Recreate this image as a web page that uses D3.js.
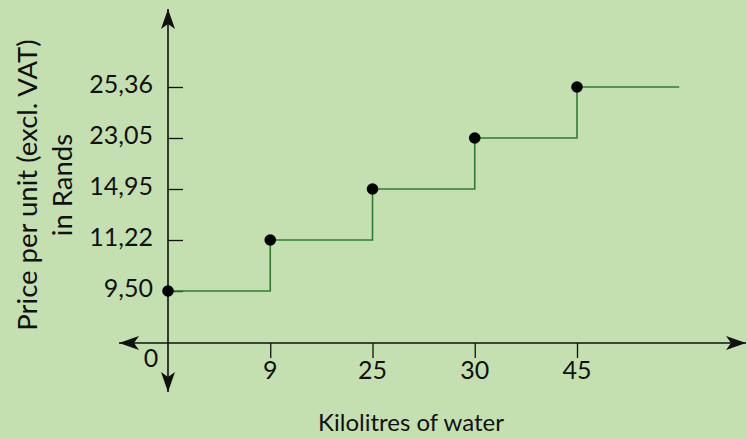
<!DOCTYPE html>
<html><head><meta charset="utf-8">
<script src="https://cdn.jsdelivr.net/npm/d3@7"></script>
<style>
html,body{margin:0;padding:0;background:#c5e0b0;}
svg{display:block;font-family:Lato,"Open Sans",sans-serif;}
</style></head>
<body>
<script>
const xCategories = ["0", "9", "25", "30", "45"];
const yCategories = ["9,50", "11,22", "14,95", "23,05", "25,36"];
const steps = [
  {x: "0",  y: "9,50"},
  {x: "9",  y: "11,22"},
  {x: "25", y: "14,95"},
  {x: "30", y: "23,05"},
  {x: "45", y: "25,36"}
];
const xTitle = "Kilolitres of water";
const yTitle = ["Price per unit (excl. VAT)", "in Rands"];

const W = 747, H = 439;
const svg = d3.select("body").append("svg").attr("width", W).attr("height", H);
svg.append("rect").attr("width", W).attr("height", H).attr("fill", "#c5e0b0");

const x = d3.scalePoint().domain(xCategories).range([168, 577]);
const y = d3.scalePoint().domain(yCategories).range([291, 87]);
const x0 = 168, y0 = 343;
const ink = "#111";

// arrowheads
const defs = svg.append("defs");
defs.append("marker").attr("id", "arr").attr("viewBox", "0 0 20 14")
  .attr("refX", 20).attr("refY", 7).attr("markerWidth", 20).attr("markerHeight", 14)
  .attr("markerUnits", "userSpaceOnUse").attr("orient", "auto-start-reverse")
  .append("path").attr("d", "M0,0 L20,7 L0,14 L5,7 Z").attr("fill", ink);

// x axis line
svg.append("line").attr("x1", 119).attr("x2", 746).attr("y1", y0).attr("y2", y0)
  .attr("stroke", ink).attr("stroke-width", 1.6)
  .attr("marker-start", "url(#arr)").attr("marker-end", "url(#arr)");
// y axis line
svg.append("line").attr("x1", x0).attr("x2", x0).attr("y1", 392).attr("y2", 9)
  .attr("stroke", ink).attr("stroke-width", 1.6)
  .attr("marker-start", "url(#arr)").attr("marker-end", "url(#arr)");

// x ticks
const xAxis = d3.axisBottom(x).tickSize(15).tickFormat(() => "")
  .tickValues(xCategories.slice(1));
const gx = svg.append("g").attr("transform", `translate(0,${y0})`).call(xAxis);
gx.select(".domain").remove();
gx.selectAll(".tick line").attr("stroke", ink).attr("stroke-width", 1.3);
svg.append("g").selectAll("text").data(xCategories.slice(1)).join("text")
  .attr("x", d => x(d)).attr("y", 379).attr("text-anchor", "middle")
  .attr("font-size", 25).attr("fill", ink).text(d => d);

// origin label
svg.append("text").attr("x", 151).attr("y", 367).attr("text-anchor", "middle")
  .attr("font-size", 25).attr("fill", ink).text(xCategories[0]);

// y ticks (pointing right into the plot)
const yAxis = d3.axisRight(y).tickSize(15).tickFormat(() => "");
const gy = svg.append("g").attr("transform", `translate(${x0},0)`).call(yAxis);
gy.select(".domain").remove();
gy.selectAll(".tick line").attr("stroke", ink).attr("stroke-width", 1.3);
svg.append("g").selectAll("text").data(yCategories).join("text")
  .attr("x", 153).attr("y", d => y(d) - 3).attr("dy", "0.35em")
  .attr("text-anchor", "end").attr("font-size", 25).attr("fill", ink)
  .text(d => d);

// step line
const step = x.step();
const pts = [];
steps.forEach((d, i) => {
  const xs = x(d.x), ys = y(d.y);
  const xe = i < steps.length - 1 ? x(steps[i + 1].x) : xs + step;
  pts.push([xs, ys], [xe, ys]);
});
svg.append("path").attr("d", d3.line()(pts)).attr("fill", "none")
  .attr("stroke", "#2e7d32").attr("stroke-width", 1.6);

// dots
svg.append("g").selectAll("circle").data(steps).join("circle")
  .attr("cx", d => x(d.x)).attr("cy", d => y(d.y)).attr("r", 5.8).attr("fill", "#000");

// titles
svg.append("text").attr("x", 411).attr("y", 431).attr("text-anchor", "middle")
  .attr("font-size", 24).attr("fill", ink).text(xTitle);
const yt = svg.append("text").attr("transform", "translate(0,185) rotate(-90)")
  .attr("text-anchor", "middle").attr("font-size", 27.5).attr("fill", ink);
yt.append("tspan").attr("x", 0).attr("y", 37).text(yTitle[0]);
yt.append("tspan").attr("x", 0).attr("y", 72).text(yTitle[1]);
</script>
</body></html>
